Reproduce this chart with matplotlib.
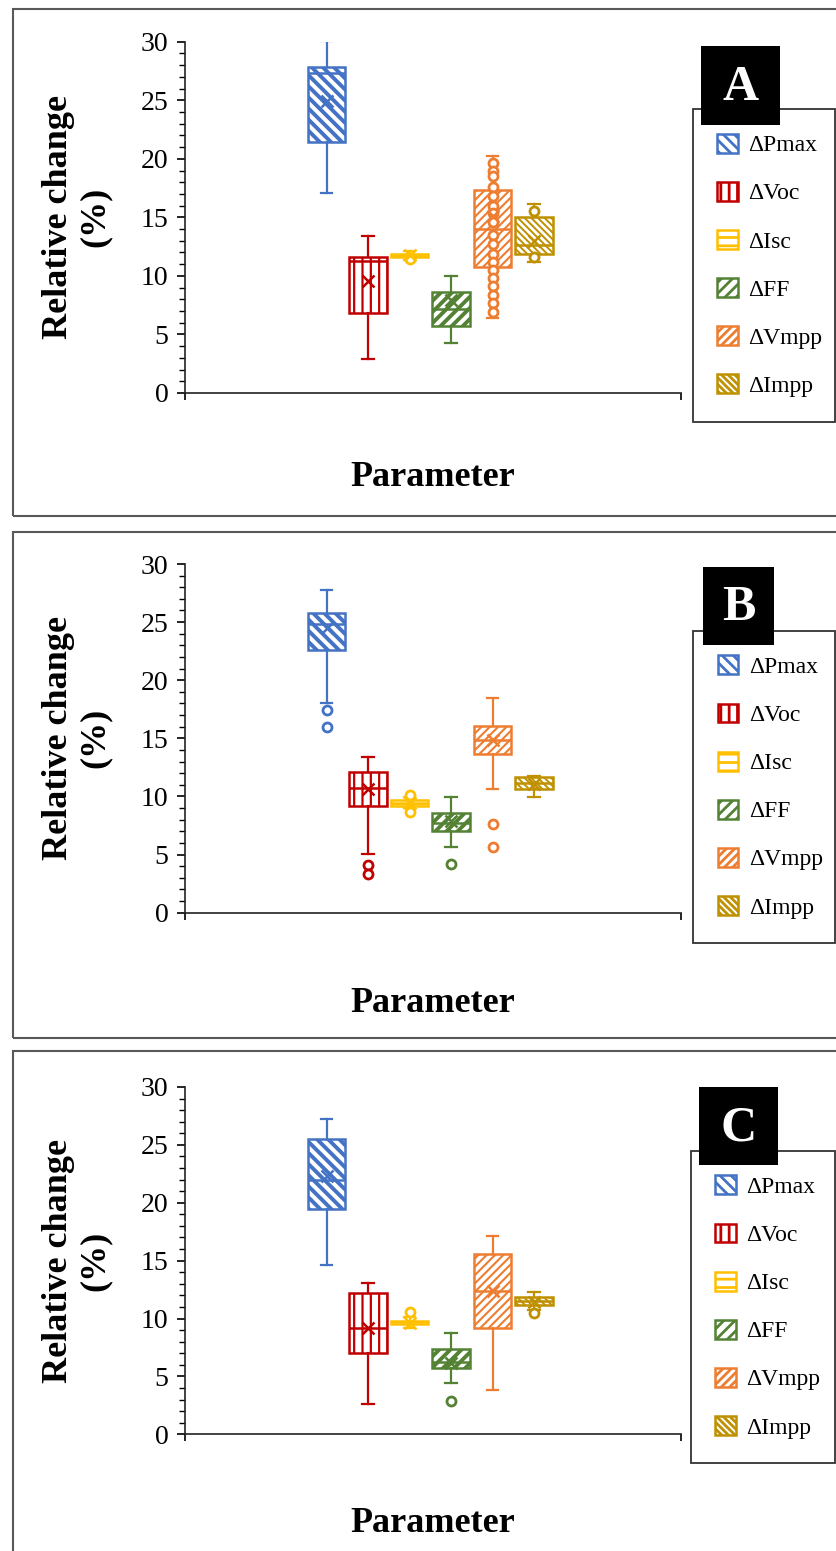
import numpy as np
import matplotlib
matplotlib.use('Agg')
import matplotlib.pyplot as plt
from matplotlib.patches import Rectangle

plt.rcParams['font.family'] = ['Liberation Serif', 'DejaVu Serif']
plt.rcParams['hatch.linewidth'] = 2.0

# series
params = ['ΔPmax', 'ΔVoc', 'ΔIsc', 'ΔFF', 'ΔVmpp', 'ΔImpp']
colors = ['#4472C4', '#C00000', '#FFC000', '#548235', '#ED7D31', '#BF9000']
hatches = ['\\\\\\', '||', '--', '///', '////', '\\\\\\\\\\']
hatch_lw = [2.8, 1.6, 1.6, 2.8, 1.5, 1.4]

# panel A
a_low = [17.1, 2.9, 11.35, 4.3, 6.4, 11.2]
a_q1 = [21.4, 6.86, 11.6, 5.74, 10.8, 11.85]
a_med = [27.3, 11.3, 11.7, 7.15, 14.0, 12.6]
a_q3 = [27.8, 11.65, 11.85, 8.6, 17.3, 15.07]
a_high = [30.1, 13.4, 12.1, 10.0, 20.25, 16.1]
a_mean = [24.9, 9.6, 11.75, 7.9, 15.1, 13.0]
a_pts = [[], [], [11.45], [],
         [19.6, 19.0, 18.5, 17.6, 16.8, 16.0, 15.4, 14.6, 13.5, 12.7,
          11.9, 11.2, 10.5, 9.8, 9.1, 8.4, 7.7, 6.95],
         [15.5, 11.6]]

# panel B
b_low = [18.0, 5.05, 9.0, 5.68, 10.64, 9.98]
b_q1 = [22.6, 9.18, 9.15, 7.06, 13.66, 10.64]
b_med = [24.8, 10.7, 9.45, 7.7, 14.86, 11.14]
b_q3 = [25.8, 12.14, 9.7, 8.55, 16.1, 11.65]
b_high = [27.8, 13.37, 9.95, 9.98, 18.45, 11.75]
b_mean = [24.5, 10.65, 9.45, 7.9, 14.9, 11.1]
b_pts = [[17.45, 16.0], [4.1, 3.3], [10.1, 8.65], [4.2], [7.63, 5.68], []]

# panel C
c_low = [14.6, 2.62, 9.2, 4.4, 3.83, 10.74]
c_q1 = [19.5, 7.0, 9.55, 5.76, 9.2, 11.18]
c_med = [22.0, 9.16, 9.7, 6.28, 12.4, 11.5]
c_q3 = [25.5, 12.19, 9.8, 7.35, 15.6, 11.84]
c_high = [27.2, 13.05, 10.1, 8.73, 17.14, 12.3]
c_mean = [22.3, 9.2, 9.6, 6.2, 12.4, 11.4]
c_pts = [[], [], [10.55], [2.88], [], [10.46]]

W, H = 836, 1551
fig = plt.figure(figsize=(W / 100, H / 100), dpi=100)


def fx(x):
    return x / W


def fy(y):
    return 1 - y / H


def add_rect(l, t, r, b, **kw):
    fig.add_artist(Rectangle((fx(l), fy(b)), fx(r) - fx(l), (b - t) / H,
                             transform=fig.transFigure, **kw))


panels = [
    ('A', (a_low, a_q1, a_med, a_q3, a_high, a_mean, a_pts),
     (9, 515.7), (185, 41.7, 681, 393), 478, (700.7, 46, 780, 125), (692.7, 109)),
    ('B', (b_low, b_q1, b_med, b_q3, b_high, b_mean, b_pts),
     (531.7, 1037.5), (185, 564, 681, 912.7), 1003, (703.3, 567.3, 774.3, 645), (693.3, 630.7)),
    ('C', (c_low, c_q1, c_med, c_q3, c_high, c_mean, c_pts),
     (1050.7, 1565), (185, 1087, 681, 1434.3), 1524, (699.3, 1087.3, 778.3, 1165), (690.7, 1150.7)),
]

pos = np.arange(len(params))

for name, data, frame, axpx, xlab_y, lab_box, leg_tl in panels:
    low, q1, med, q3, high, mean, pts = data
    add_rect(13, frame[0], 845, frame[1], fill=False, edgecolor='#595959', lw=1.5)

    l, t, r, b = axpx
    ax = fig.add_axes([fx(l), fy(b), (r - l) / W, (b - t) / H])
    stats = []
    for i in range(len(params)):
        stats.append(dict(whislo=low[i], q1=q1[i], med=med[i], q3=q3[i],
                          whishi=high[i], mean=mean[i], fliers=pts[i],
                          label=params[i]))
    bp = ax.bxp(stats, positions=pos, widths=0.9, patch_artist=True,
                showmeans=True, showfliers=True, capwidths=0.27)
    for i, c in enumerate(colors):
        box = bp['boxes'][i]
        box.set_facecolor('white')
        box.set_edgecolor(c)
        box.set_linewidth(1.8)
        box.set_hatch(hatches[i])
        if hasattr(box, 'set_hatch_linewidth'):
            box.set_hatch_linewidth(hatch_lw[i])
        bp['medians'][i].set(color=c, linewidth=1.8)
        for k in (2 * i, 2 * i + 1):
            bp['whiskers'][k].set(color=c, linewidth=1.6)
            bp['caps'][k].set(color=c, linewidth=1.6)
        bp['means'][i].set(marker='x', markersize=9, markeredgewidth=1.8,
                           markeredgecolor=c, markerfacecolor=c)
        bp['fliers'][i].set(marker='o', markersize=6.5, markeredgewidth=2.0,
                            markeredgecolor=c, markerfacecolor='white')

    span = 41.5
    ax.set_xlim(2.5 - (430.3 - l) / span, 2.5 + (r - 430.3) / span)
    ax.set_ylim(0, 30)
    ax.set_yticks(np.arange(0, 31, 5))
    ax.set_yticks(np.arange(0, 31, 1), minor=True)
    ax.set_xticks(ax.get_xlim())
    ax.set_xticklabels(['', ''])
    ax.tick_params(axis='y', which='major', length=6, width=1.2, direction='out',
                   labelsize=20, pad=6)
    ax.tick_params(axis='y', which='minor', length=4, width=1.0, direction='out')
    ax.tick_params(axis='x', length=5, width=1.2, direction='out')
    for s in ('top', 'right'):
        ax.spines[s].set_visible(False)
    for s in ('left', 'bottom'):
        ax.spines[s].set_linewidth(1.2)
        ax.spines[s].set_color('#222222')
    ax.patch.set_alpha(0)

    fig.text(fx(76.5), fy((t + b) / 2), 'Relative change\n(%)', rotation=90,
             ha='center', va='center', multialignment='center',
             fontsize=26, fontweight='bold', linespacing=1.15)
    fig.text(fx(433), fy(xlab_y), 'Parameter', ha='center', va='center',
             fontsize=26, fontweight='bold')

    leg = ax.legend(bp['boxes'], params, loc='upper left',
                    bbox_to_anchor=(fx(leg_tl[0]), fy(leg_tl[1]),
                                    fx(835) - fx(leg_tl[0]), 0),
                    bbox_transform=fig.transFigure, mode='expand',
                    fontsize=17, handlelength=0.85, handleheight=0.85,
                    handletextpad=0.45, labelspacing=1.08, borderpad=1.05,
                    fancybox=False, framealpha=1, edgecolor='#333333',
                    borderaxespad=0)
    leg.get_frame().set_linewidth(1.3)

    add_rect(*lab_box, facecolor='black', edgecolor='none', zorder=5)
    fig.text(fx((lab_box[0] + lab_box[2]) / 2), fy((lab_box[1] + lab_box[3]) / 2 + 2),
             name, color='white', fontsize=36, fontweight='bold',
             ha='center', va='center', zorder=6)

fig.savefig('out.png', dpi=100)
